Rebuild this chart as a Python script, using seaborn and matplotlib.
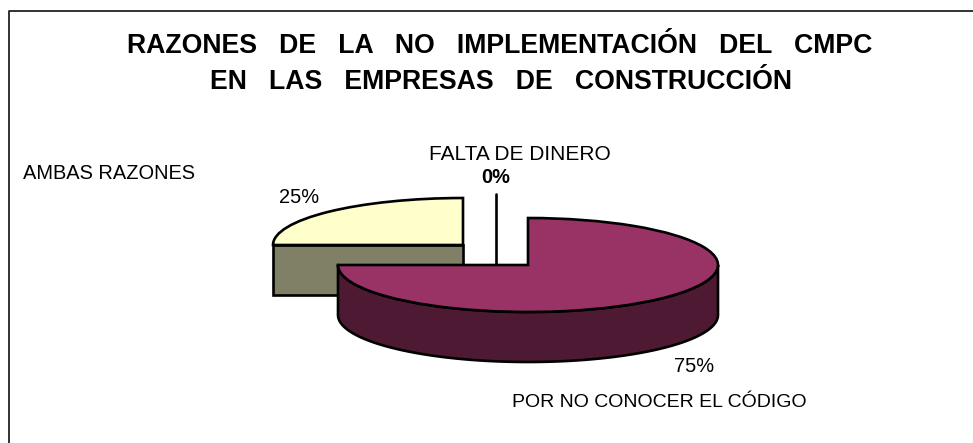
import matplotlib
matplotlib.use('Agg')
import matplotlib.pyplot as plt
import numpy as np
import seaborn as sns

# Chart data
categories = ['FALTA DE DINERO', 'POR NO CONOCER EL CÓDIGO', 'AMBAS RAZONES']
values = [0, 75, 25]
pct_labels = ['0%', '75%', '25%']

top_colors = ['#FFFFFF', '#993366', '#FFFFCC']
side_colors = ['#FFFFFF', '#4D1933', '#808066']

W, H = 973, 443
RX, RY = 190, 47
DEPTH = 50
LW = 1.9
# Slice centres in picture pixels (exploded by hand to match the reference)
centers_px = [(496, 241), (528, 265), (463, 245)]

sns.set_theme(style='white')
plt.rcParams['font.family'] = ['Liberation Sans', 'DejaVu Sans']

fig = plt.figure(figsize=(W / 100, H / 100), dpi=100)
ax = fig.add_axes([0, 0, 1, 1])

wedges, _ = ax.pie(values, colors=top_colors, startangle=90, counterclock=False, radius=1,
                   wedgeprops=dict(edgecolor='black', linewidth=LW, zorder=3))

# Squash the pie: one data unit is RX pixels across and RY pixels down
ax.set_aspect('auto')
ax.set_xlim(-496 / RX, (W - 496) / RX)
ax.set_ylim((255 - H) / RY, 255 / RY)


def to_data(px, py):
    return (px - 496) / RX, (255 - py) / RY


d = DEPTH / RY
for wedge, (px, py), side in zip(wedges, centers_px, side_colors):
    cx, cy = to_data(px, py)
    wedge.set_center((cx, cy))
    span = wedge.theta2 - wedge.theta1
    if span == 0:
        # zero slice is only a cut line, run it over the whole slice height
        wedge.set_visible(False)
        ax.plot([cx, cx], [cy + wedge.r, cy - d], color='black', lw=LW, zorder=1)
    elif span > 180:
        # front rim of the large slice
        t = np.radians(np.linspace(-180, 0, 120))
        xs = cx + np.cos(t)
        ys = cy + np.sin(t)
        ax.fill(np.r_[xs, xs[::-1]], np.r_[ys, ys[::-1] - d], facecolor=side,
                edgecolor='black', lw=LW, zorder=2.5, joinstyle='round')
    else:
        # cut face of the small slice
        ax.fill([cx - 1, cx, cx, cx - 1], [cy, cy, cy - d, cy - d], facecolor=side,
                edgecolor='black', lw=LW, zorder=1.5)
# small slice sits behind the large one
wedges[2].set_zorder(1.6)

# Frame: only the top and left sides show in the picture
fig.add_artist(plt.Line2D([8.5 / W, 8.5 / W, 1], [0, 1 - 10.5 / H, 1 - 10.5 / H], color='#222222',
                          lw=1.3, transform=fig.transFigure))

title_lines = ['RAZONES   DE   LA   NO   IMPLEMENTACIÓN   DEL   CMPC',
               'EN   LAS   EMPRESAS   DE   CONSTRUCCIÓN']


def put(x, y, s, **kw):
    fig.text(x / W, 1 - y / H, s, va='baseline', color='black', **kw)


put(500, 53, title_lines[0], ha='center', fontsize=19.2, fontweight='bold')
put(501, 89, title_lines[1], ha='center', fontsize=19.2, fontweight='bold')

put(520, 160, categories[0], ha='center', fontsize=15)
put(495.5, 183, pct_labels[0], ha='center', fontsize=14.4, fontweight='bold')
put(23, 179, categories[2], ha='left', fontsize=14.4)
put(299, 203, pct_labels[2], ha='center', fontsize=14.4)
put(694.5, 372, pct_labels[1], ha='center', fontsize=14.4)
put(512, 407, categories[1], ha='left', fontsize=14)

fig.savefig('out.png', dpi=100)
